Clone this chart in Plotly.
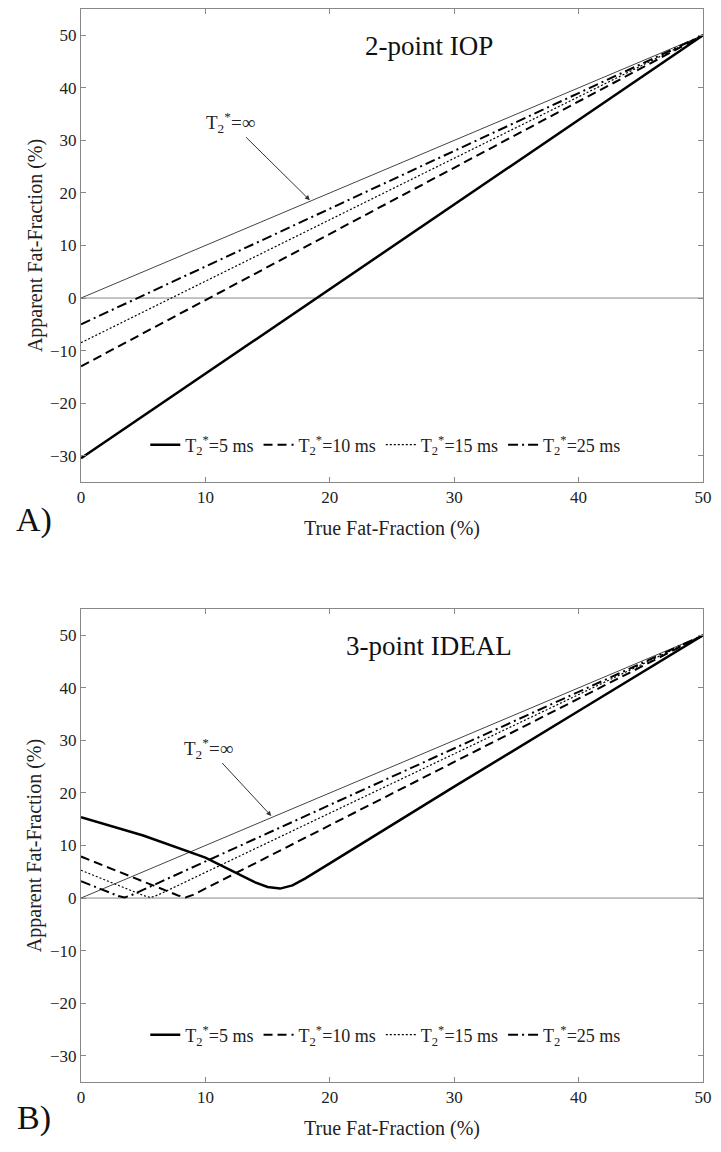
import plotly.graph_objects as go

# ---------------- data ----------------
# Panel A: 2-point IOP (apparent FF vs true FF)
a_x = [0, 50]
a_inf = [0, 50]
a_t25 = [-5, 50]
a_t15 = [-8.5, 50]
a_t10 = [-13, 50]
a_t5 = [-30.5, 50]

# Panel B: 3-point IDEAL
b_inf_x = [0, 50]
b_inf_y = [0, 50]
b_t25_x = [0, 3.0, 3.5, 4.0, 50]
b_t25_y = [3.2, 0.4, 0.1, 0.5, 50]
b_t15_x = [0, 5.0, 5.6, 6.2, 50]
b_t15_y = [5.3, 0.5, 0.1, 0.6, 50]
b_t10_x = [0, 7.8, 8.4, 9.0, 50]
b_t10_y = [7.9, 0.5, 0.1, 0.6, 50]
b_t5_x = [0, 5, 10, 13, 14, 15, 16, 17, 18, 20, 30, 40, 50]
b_t5_y = [15.4, 11.9, 7.7, 4.2, 3.0, 2.1, 1.8, 2.4, 3.7, 6.6, 21.2, 35.6, 50]

legend_names = ["T<sub>2</sub><sup>*</sup>=5 ms", "T<sub>2</sub><sup>*</sup>=10 ms",
                "T<sub>2</sub><sup>*</sup>=15 ms", "T<sub>2</sub><sup>*</sup>=25 ms"]
x_ticks = [0, 10, 20, 30, 40, 50]
y_ticks = [-30, -20, -10, 0, 10, 20, 30, 40, 50]

FONT = "Liberation Serif, Times New Roman, serif"
styles = {
    "t5": dict(color="black", width=2.5, dash="solid"),
    "t10": dict(color="black", width=2, dash="9px,5px"),
    "t15": dict(color="black", width=1.2, dash="2px,2px"),
    "t25": dict(color="black", width=2, dash="10px,4px,2px,4px"),
    "inf": dict(color="#444444", width=1, dash="solid"),
}

fig = go.Figure()

def add_panel(xa, ya, leg, series):
    for key, x, y, name in series:
        fig.add_trace(go.Scatter(
            x=x, y=y, mode="lines", line=styles[key], name=name or "",
            showlegend=name is not None, legend=leg,
            xaxis=xa, yaxis=ya, hoverinfo="skip"))

add_panel("x", "y", "legend", [
    ("inf", a_x, a_inf, None),
    ("t5", a_x, a_t5, legend_names[0]),
    ("t10", a_x, a_t10, legend_names[1]),
    ("t15", a_x, a_t15, legend_names[2]),
    ("t25", a_x, a_t25, legend_names[3]),
])
add_panel("x2", "y2", "legend2", [
    ("inf", b_inf_x, b_inf_y, None),
    ("t5", b_t5_x, b_t5_y, legend_names[0]),
    ("t10", b_t10_x, b_t10_y, legend_names[1]),
    ("t15", b_t15_x, b_t15_y, legend_names[2]),
    ("t25", b_t25_x, b_t25_y, legend_names[3]),
])

axis_common = dict(
    showline=True, linecolor="#888888", linewidth=1, mirror="ticks",
    ticks="inside", ticklen=5, tickcolor="#888888",
    showgrid=False, zeroline=False,
    tickfont=dict(family=FONT, size=17, color="#222"),
    title_font=dict(family=FONT, size=20, color="#222"),
)

# pixel layout (page body adds an 8px offset)
W, H = 705, 1136
ML, MR, MT, MB = 73, 10, 1, 62
PW, PH = W - ML - MR, H - MT - MB

domA = [0.5592, 1.0]
domB = [0.0, 0.4408]

fig.update_layout(
    width=W, height=H,
    margin=dict(l=ML, r=MR, t=MT, b=MB),
    paper_bgcolor="white", plot_bgcolor="white",
    font=dict(family=FONT, color="#222"),
    xaxis=dict(domain=[0, 1], anchor="y", range=[0, 50], tickvals=x_ticks,
               title=dict(text="True Fat-Fraction (%)", standoff=14), **axis_common),
    yaxis=dict(domain=domA, anchor="x", range=[-35, 55], tickvals=y_ticks,
               title=dict(text="Apparent Fat-Fraction (%)", standoff=2), **axis_common),
    xaxis2=dict(domain=[0, 1], anchor="y2", range=[0, 50], tickvals=x_ticks,
                title=dict(text="True Fat-Fraction (%)", standoff=14), **axis_common),
    yaxis2=dict(domain=domB, anchor="x2", range=[-35, 55], tickvals=y_ticks,
                title=dict(text="Apparent Fat-Fraction (%)", standoff=2), **axis_common),
    legend=dict(orientation="h", x=0.49, y=0.5937, xanchor="center", yanchor="middle",
                bgcolor="rgba(0,0,0,0)", font=dict(family=FONT, size=18, color="#222"),
                itemwidth=30, tracegroupgap=0),
    legend2=dict(orientation="h", x=0.49, y=0.0438, xanchor="center", yanchor="middle",
                 bgcolor="rgba(0,0,0,0)", font=dict(family=FONT, size=18, color="#222"),
                 itemwidth=30, tracegroupgap=0),
)

# zero lines
for xr, yr in [("x", "y"), ("x2", "y2")]:
    fig.add_shape(type="line", xref=xr, yref=yr, x0=0, x1=50, y0=0, y1=0,
                  line=dict(color="#888888", width=1), layer="below")

# panel titles
fig.add_annotation(x=28, y=48, xref="x", yref="y", text="2-point IOP", showarrow=False,
                   font=dict(family=FONT, size=27, color="#111"))
fig.add_annotation(x=28, y=48, xref="x2", yref="y2", text="3-point IDEAL", showarrow=False,
                   font=dict(family=FONT, size=27, color="#111"))

# T2* = infinity arrows
inf_text = "T<sub>2</sub><sup>*</sup>=∞"
fig.add_annotation(x=18.4, y=18.6, xref="x", yref="y", text=inf_text, showarrow=True,
                   arrowhead=2, arrowsize=1, arrowwidth=1, arrowcolor="#333",
                   ax=-79, ay=-78, font=dict(family=FONT, size=19, color="#222"))
fig.add_annotation(x=15.3, y=15.6, xref="x2", yref="y2", text=inf_text, showarrow=True,
                   arrowhead=2, arrowsize=1, arrowwidth=1, arrowcolor="#333",
                   ax=-63, ay=-68, font=dict(family=FONT, size=19, color="#222"))

# panel letters (positions given in screen pixels, converted to paper coords)
for label, sx, sy in [("A)", 34, 520), ("B)", 34, 1118)]:
    fx, fy = sx - 8, sy - 8
    fig.add_annotation(x=(fx - ML) / PW, y=(H - MB - fy) / PH, xref="paper", yref="paper",
                       text=label, showarrow=False, xanchor="center", yanchor="middle",
                       font=dict(family=FONT, size=34, color="#111"))

fig.write_html("out.html")
